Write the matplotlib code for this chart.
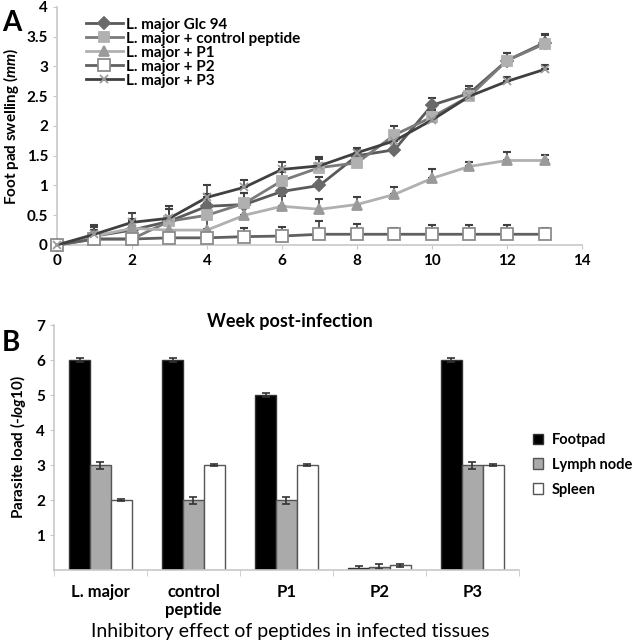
import numpy as np
import matplotlib
matplotlib.use("Agg")
import matplotlib.pyplot as plt

plt.rcParams['font.family'] = ['Lato', 'DejaVu Sans']
plt.rcParams['font.weight'] = 'bold'
plt.rcParams['mathtext.fontset'] = 'custom'
plt.rcParams['mathtext.it'] = 'Lato:italic:bold'
plt.rcParams['mathtext.rm'] = 'Lato:bold'

# panel A: foot pad swelling
weeks = list(range(14))
glc94 = [0, 0.15, 0.25, 0.4, 0.65, 0.68, 0.9, 1.0, 1.5, 1.6, 2.35, 2.55, 3.1, 3.4]
glc94_err = [0, 0.15, 0.15, 0.2, 0.2, 0.2, 0.15, 0.15, 0.12, 0.15, 0.12, 0.12, 0.12, 0.15]
ctrl = [0, 0.1, 0.1, 0.4, 0.5, 0.7, 1.08, 1.3, 1.38, 1.85, 2.15, 2.5, 3.1, 3.38]
ctrl_err = [0, 0.15, 0.15, 0.2, 0.2, 0.18, 0.15, 0.15, 0.12, 0.15, 0.12, 0.12, 0.12, 0.15]
p1 = [0, 0.15, 0.28, 0.25, 0.25, 0.5, 0.65, 0.6, 0.68, 0.85, 1.12, 1.32, 1.42, 1.42]
p1_err = [0, 0.15, 0.15, 0.2, 0.2, 0.2, 0.18, 0.18, 0.12, 0.13, 0.15, 0.08, 0.15, 0.1]
p2 = [0, 0.1, 0.1, 0.12, 0.12, 0.14, 0.15, 0.18, 0.18, 0.18, 0.18, 0.18, 0.18, 0.18]
p2_err = [0, 0.1, 0.1, 0.12, 0.15, 0.15, 0.15, 0.22, 0.18, 0.1, 0.15, 0.15, 0.15, 0.1]
p3 = [0, 0.18, 0.38, 0.45, 0.8, 0.97, 1.27, 1.33, 1.55, 1.75, 2.1, 2.5, 2.75, 2.95]
p3_err = [0, 0.15, 0.15, 0.2, 0.2, 0.12, 0.12, 0.15, 0.08, 0.12, 0.1, 0.1, 0.08, 0.08]

# panel B: parasite load
groups = ['L. major', 'control\npeptide', 'P1', 'P2', 'P3']
footpad = [6, 6, 5, 0.07, 6]
footpad_err = [0.05, 0.05, 0.05, 0.04, 0.05]
lymph = [3, 2, 2, 0.1, 3]
lymph_err = [0.1, 0.1, 0.1, 0.08, 0.1]
spleen = [2, 3, 3, 0.13, 3]
spleen_err = [0.03, 0.04, 0.04, 0.04, 0.04]

fig = plt.figure(figsize=(6.36, 6.44), dpi=100)

# ---- panel A
ax = fig.add_axes([0.0896, 0.6196, 0.8255, 0.3696])
series = [
    ('L. major Glc 94', glc94, glc94_err, '#5a5a5a', 'D', '#6a6a6a', '#6a6a6a', 6),
    ('L. major + control peptide', ctrl, ctrl_err, '#7a7a7a', 's', '#b0b0b0', '#b0b0b0', 7),
    ('L. major + P1', p1, p1_err, '#b0b0b0', '^', '#9a9a9a', '#9a9a9a', 7),
    ('L. major + P2', p2, p2_err, '#606060', 's', 'white', '#8c8c8c', 9),
    ('L. major + P3', p3, p3_err, '#404040', 'x', '#9a9a9a', '#9a9a9a', 6),
]
for name, vals, err, lc, mk, mfc, mec, ms in series:
    lower = np.zeros(len(err))
    ax.errorbar(weeks, vals, yerr=[lower, err], fmt='none', ecolor='#404040',
                elinewidth=1.2, capsize=3, capthick=1.5, zorder=2)
    ax.plot(weeks, vals, color=lc, lw=2, marker=mk, mfc=mfc, mec=mec, ms=ms,
            mew=1.3, label=name, zorder=3, clip_on=False)

ax.set_xlim(0, 14)
ax.set_ylim(0, 4)
ax.set_xticks(range(0, 15, 2))
ax.set_yticks(np.arange(0, 4.01, 0.5))
ax.set_yticklabels(['0', '0.5', '1', '1.5', '2', '2.5', '3', '3.5', '4'])
for s in ['top', 'right']:
    ax.spines[s].set_visible(False)
for s in ['left', 'bottom']:
    ax.spines[s].set_color('#c8c8c8')
    ax.spines[s].set_linewidth(1.2)
ax.tick_params(colors='#c8c8c8', labelcolor='black', labelsize=11, length=3)
ax.set_ylabel('Foot pad swelling ($\\it{mm}$)', fontsize=11, fontweight='bold', labelpad=4)
ax.legend(loc='upper left', bbox_to_anchor=(0.055, 0.955), frameon=False, fontsize=11,
          handlelength=2.4, labelspacing=0.0, borderaxespad=0, borderpad=0,
          handletextpad=0.2)
fig.text(0.455, 0.5, 'Week post-infection', fontsize=13, fontweight='bold',
         ha='center', va='center')
fig.text(0.003, 0.985, 'A', fontsize=20, fontweight='bold', va='top')

# ---- panel B
bx = fig.add_axes([0.0849, 0.1149, 0.731, 0.3804])
x = np.arange(len(groups))
w = 0.225
ek = dict(ecolor='#333333', elinewidth=1.2, capsize=3, capthick=1.2)
bx.bar(x - w, footpad, w, yerr=footpad_err, color='black', edgecolor='#333333',
       label='Footpad', error_kw=ek)
bx.bar(x, lymph, w, yerr=lymph_err, color='#aaaaaa', edgecolor='#555555',
       label='Lymph node', error_kw=ek)
bx.bar(x + w, spleen, w, yerr=spleen_err, color='white', edgecolor='#555555',
       label='Spleen', error_kw=ek)
bx.set_xlim(-0.5, len(groups) - 0.5)
bx.set_ylim(0, 7)
bx.set_yticks(range(1, 8))
bx.set_xticks(x)
bx.set_xticklabels(groups, fontsize=12)
bx.set_xticks(np.arange(-0.5, len(groups), 1), minor=True)
bx.tick_params(axis='x', which='major', length=0, pad=10)
bx.tick_params(axis='x', which='minor', length=4, colors='#c8c8c8')
bx.tick_params(axis='y', colors='#c8c8c8', labelcolor='black', labelsize=11, length=3)
for s in ['top', 'right']:
    bx.spines[s].set_visible(False)
for s in ['left', 'bottom']:
    bx.spines[s].set_color('#c8c8c8')
    bx.spines[s].set_linewidth(1.2)
bx.set_ylabel('Parasite load (-$\\it{log10}$)', fontsize=11, fontweight='bold', labelpad=6)
fig.text(0.457, 0.02, 'Inhibitory effect of peptides in infected tissues', fontsize=14,
         fontweight='normal', ha='center', va='center')
bx.legend(loc='center left', bbox_to_anchor=(1.03, 0.43), frameon=False, fontsize=10.5,
          handlelength=0.7, handleheight=0.7, labelspacing=0.75, handletextpad=0.6,
          borderaxespad=0, borderpad=0)
fig.text(0.003, 0.488, 'B', fontsize=20, fontweight='bold', va='top')

fig.savefig('out.png', dpi=100)
